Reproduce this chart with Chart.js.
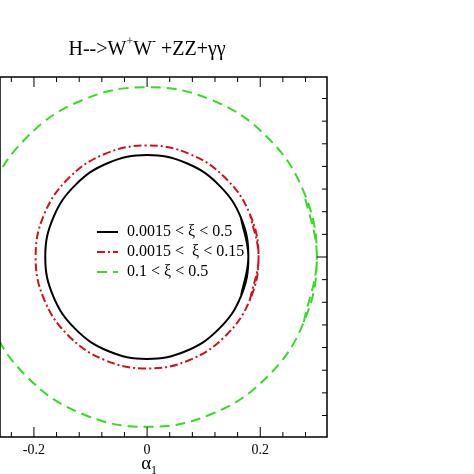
<!DOCTYPE html>
<html>
<head>
<meta charset="utf-8">
<script src="https://cdn.jsdelivr.net/npm/chart.js@4"></script>
<style>
  html, body { margin: 0; padding: 0; background: #fff; }
  #wrap { width: 474px; height: 474px; }
</style>
</head>
<body>
<div id="wrap"><canvas id="contour"></canvas></div>
<script>
// contour points (alpha_1, alpha_2); first/last points overlap to close smoothly
const blackX = [0.166, 0.179, 0.166, 0.127, 0.069, 0, -0.069, -0.127, -0.166, -0.180, -0.166, -0.127, -0.069, 0, 0.069, 0.127, 0.166, 0.179, 0.166];
const blackY = [-0.069, 0, 0.069, 0.127, 0.166, 0.180, 0.166, 0.127, 0.069, 0, -0.069, -0.127, -0.166, -0.180, -0.166, -0.127, -0.069, 0, 0.069];
const redX = [0.182, 0.197, 0.182, 0.139, 0.075, 0, -0.075, -0.139, -0.182, -0.197, -0.182, -0.139, -0.075, 0, 0.075, 0.139, 0.182, 0.197, 0.182];
const redY = [-0.075, 0, 0.075, 0.139, 0.182, 0.197, 0.182, 0.139, 0.075, 0, -0.075, -0.139, -0.182, -0.197, -0.182, -0.139, -0.075, 0, 0.075];
const greenX = [0.277, 0.300, 0.277, 0.212, 0.115, 0, -0.115, -0.212, -0.277, -0.300, -0.277, -0.212, -0.115, 0, 0.115, 0.212, 0.277, 0.300, 0.277];
const greenY = [-0.115, 0, 0.115, 0.212, 0.277, 0.300, 0.277, 0.212, 0.115, 0, -0.115, -0.212, -0.277, -0.300, -0.277, -0.212, -0.115, 0, 0.115];
const xTickLabels = [-0.2, 0, 0.2];
const legendLabels = ["0.0015 < \u03BE < 0.5", "0.0015 <  \u03BE < 0.15", "0.1 < \u03BE < 0.5"];

const pts = (xs, ys) => xs.map((x, i) => ({ x: x, y: ys[i] }));
const serif = "'Liberation Serif', 'DejaVu Serif', serif";

const decor = {
  id: "decor",
  afterDraw(chart) {
    const ctx = chart.ctx;
    const a = chart.chartArea;
    const xs = chart.scales.x, ys = chart.scales.y;
    ctx.save();
    ctx.strokeStyle = "#000";
    ctx.lineWidth = 1.5;
    ctx.strokeRect(a.left, a.top, a.right - a.left, a.bottom - a.top);
    ctx.lineWidth = 1;
    // x ticks, bottom and top, inward
    for (let k = -7; k <= 8; k++) {
      const v = k * 0.04;
      if (v < xs.min || v > xs.max) continue;
      const p = xs.getPixelForValue(v);
      const major = k % 5 === 0;
      const len = major ? 10 : 5;
      ctx.beginPath();
      ctx.moveTo(p, a.bottom); ctx.lineTo(p, a.bottom - len);
      ctx.moveTo(p, a.top); ctx.lineTo(p, a.top + len);
      ctx.stroke();
    }
    // y ticks on the right, inward
    for (let k = -8; k <= 8; k++) {
      const v = k * 0.04;
      if (v < ys.min || v > ys.max) continue;
      const p = ys.getPixelForValue(v);
      const len = k === 0 ? 10 : 5;
      ctx.beginPath();
      ctx.moveTo(a.right, p); ctx.lineTo(a.right - len, p);
      ctx.stroke();
    }
    // tick labels
    ctx.fillStyle = "#000";
    ctx.font = "14px " + serif;
    ctx.textAlign = "center";
    ctx.textBaseline = "top";
    xTickLabels.forEach(v => ctx.fillText(String(v), xs.getPixelForValue(v), a.bottom + 6));
    // axis title alpha_1
    const cx = xs.getPixelForValue(0);
    ctx.font = "19px " + serif;
    ctx.textAlign = "right";
    ctx.fillText("\u03B1", cx + 4, a.bottom + 18);
    ctx.font = "12px " + serif;
    ctx.textAlign = "left";
    ctx.fillText("1", cx + 4, a.bottom + 28);
    // title with superscripts
    ctx.textBaseline = "alphabetic";
    const parts = [["H-->W", 20, 0], ["+", 12, -10], ["W", 20, 0], ["-", 12, -10], [" +ZZ+\u03B3\u03B3", 20, 0]];
    let w = 0;
    parts.forEach(p => { ctx.font = p[1] + "px " + serif; w += ctx.measureText(p[0]).width; });
    let tx = cx - w / 2;
    parts.forEach(p => {
      ctx.font = p[1] + "px " + serif;
      ctx.fillText(p[0], tx, 55 + p[2]);
      tx += ctx.measureText(p[0]).width;
    });
    // legend
    const rows = [232, 252, 272];
    chart.data.datasets.forEach((ds, i) => {
      ctx.strokeStyle = ds.borderColor;
      ctx.lineWidth = ds.borderWidth;
      ctx.setLineDash(ds.borderDash || []);
      ctx.beginPath();
      ctx.moveTo(97, rows[i]); ctx.lineTo(118, rows[i]);
      ctx.stroke();
      ctx.setLineDash([]);
      ctx.fillStyle = "#000";
      ctx.font = "16px " + serif;
      ctx.textBaseline = "middle";
      ctx.fillText(legendLabels[i], 127, rows[i]);
    });
    ctx.restore();
  }
};

new Chart(document.getElementById("contour"), {
  type: "scatter",
  data: {
    datasets: [
      { label: legendLabels[0], data: pts(blackX, blackY), showLine: true, borderColor: "#000", borderWidth: 2, pointRadius: 0, tension: 0.4 },
      { label: legendLabels[1], data: pts(redX, redY), showLine: true, borderColor: "#d0101c", borderWidth: 2, borderDash: [8, 3, 2, 3], pointRadius: 0, tension: 0.4 },
      { label: legendLabels[2], data: pts(greenX, greenY), showLine: true, borderColor: "#33dd22", borderWidth: 2, borderDash: [10, 6], pointRadius: 0, tension: 0.4 }
    ]
  },
  options: {
    responsive: true,
    maintainAspectRatio: false,
    animation: false,
    layout: { padding: { left: 0, right: 147, top: 77, bottom: 37 } },
    plugins: { legend: { display: false }, tooltip: { enabled: false } },
    scales: {
      x: { type: "linear", min: -0.26, max: 0.318, display: false },
      y: { type: "linear", min: -0.318, max: 0.318, display: false }
    }
  },
  plugins: [decor]
});
</script>
</body>
</html>
